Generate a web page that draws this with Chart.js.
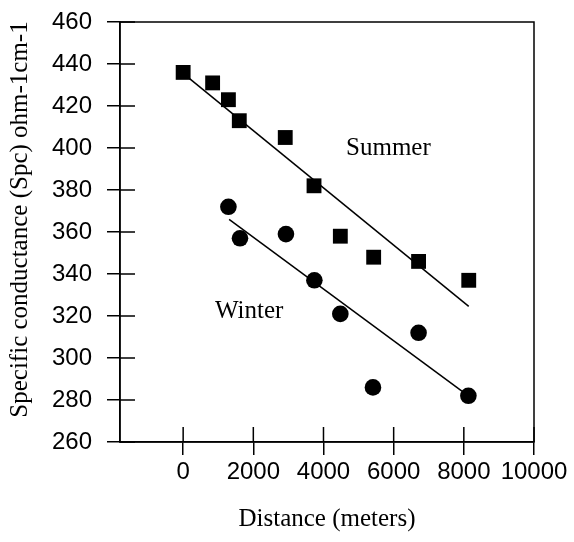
<!DOCTYPE html>
<html>
<head>
<meta charset="utf-8">
<script src="https://cdn.jsdelivr.net/npm/chart.js@4/dist/chart.umd.min.js"></script>
<style>
  body { margin: 0; background: #fff; }
  canvas { display: block; }
</style>
</head>
<body>
<canvas id="myChart" width="574" height="542"></canvas>
<script>
// data
const summerX = [0, 840, 1290, 1600, 2910, 3730, 4480, 5430, 6710, 8140];
const summerY = [436, 431, 423, 413, 405, 382, 358, 348, 346, 337];
const winterX = [1290, 1620, 2930, 3740, 4480, 5410, 6710, 8130];
const winterY = [372, 357, 359, 337, 321, 286, 312, 282];

// fitted lines (end points)
const summerFitX = [0, 8140];
const summerFitY = [435.5, 324.6];
const winterFitX = [1310, 8100];
const winterFitY = [366, 282.3];

const xTicks = [0, 2000, 4000, 6000, 8000, 10000];
const yTicks = [260, 280, 300, 320, 340, 360, 380, 400, 420, 440, 460];

const toPoints = (xs, ys) => xs.map((x, i) => ({ x: x, y: ys[i] }));

Chart.defaults.font.family = "'Liberation Sans', Arial, sans-serif";
Chart.defaults.font.size = 24;
Chart.defaults.color = '#000';

const serif = "'Liberation Serif', 'Times New Roman', serif";

// in-plot labels
const seriesNotes = [
    { text: 'Summer', x: 5850, y: 400 },
    { text: 'Winter', x: 1880, y: 322 }
];

// frame + inward ticks + notes
const framePlugin = {
    id: 'frame',
    afterDraw(chart) {
        const { ctx, chartArea: a, scales } = chart;
        ctx.save();
        ctx.strokeStyle = '#000';
        ctx.lineWidth = 1.5;
        ctx.strokeRect(a.left, a.top, a.right - a.left, a.bottom - a.top);
        ctx.beginPath();
        yTicks.forEach(v => {
            const py = scales.y.getPixelForValue(v);
            ctx.moveTo(a.left, py);
            ctx.lineTo(a.left + 15, py);
        });
        xTicks.forEach(v => {
            const px = scales.x.getPixelForValue(v);
            ctx.moveTo(px, a.bottom);
            ctx.lineTo(px, a.bottom - 15);
        });
        ctx.stroke();

        ctx.fillStyle = '#000';
        ctx.font = '25px ' + serif;
        ctx.textAlign = 'center';
        ctx.textBaseline = 'middle';
        seriesNotes.forEach(n => {
            ctx.fillText(n.text, scales.x.getPixelForValue(n.x), scales.y.getPixelForValue(n.y));
        });
        ctx.restore();
    }
};

const ctx = document.getElementById('myChart').getContext('2d');

const chart = new Chart(ctx, {
    type: 'scatter',
    data: {
        datasets: [
            {
                label: 'Summer',
                data: toPoints(summerX, summerY),
                pointStyle: 'rect',
                pointRadius: 10.5,
                backgroundColor: '#000',
                borderColor: '#000',
                borderWidth: 0
            },
            {
                label: 'Winter',
                data: toPoints(winterX, winterY),
                pointStyle: 'circle',
                pointRadius: 8.3,
                backgroundColor: '#000',
                borderColor: '#000',
                borderWidth: 0
            },
            {
                type: 'line',
                label: 'Summer fit',
                data: toPoints(summerFitX, summerFitY),
                borderColor: '#000',
                borderWidth: 1.5,
                pointRadius: 0,
                fill: false
            },
            {
                type: 'line',
                label: 'Winter fit',
                data: toPoints(winterFitX, winterFitY),
                borderColor: '#000',
                borderWidth: 1.5,
                pointRadius: 0,
                fill: false
            }
        ]
    },
    options: {
        responsive: false,
        animation: false,
        layout: { padding: { left: 0, top: 22, right: 40, bottom: 0 } },
        plugins: {
            legend: { display: false },
            tooltip: { enabled: false }
        },
        scales: {
            x: {
                type: 'linear',
                min: -1800,
                max: 10000,
                afterBuildTicks: (scale) => { scale.ticks = xTicks.map(v => ({ value: v })); },
                afterFit: (scale) => {
                    scale.height = 100;
                    scale.paddingLeft = 0;
                    scale.paddingRight = 0;
                },
                grid: {
                    drawOnChartArea: false,
                    color: '#000',
                    lineWidth: 1.5,
                    tickLength: 13
                },
                border: { color: '#000', width: 1.5 },
                ticks: { padding: 3, maxRotation: 0, autoSkip: false, callback: (v) => String(v) },
                title: {
                    display: true,
                    text: 'Distance (meters)',
                    font: { family: serif, size: 25 },
                    padding: { top: 8, bottom: 8 }
                }
            },
            y: {
                min: 260,
                max: 460,
                afterBuildTicks: (scale) => { scale.ticks = yTicks.map(v => ({ value: v })); },
                afterFit: (scale) => {
                    scale.width = 120;
                    scale.paddingTop = 0;
                    scale.paddingBottom = 0;
                },
                grid: {
                    drawOnChartArea: false,
                    color: '#000',
                    lineWidth: 1.5,
                    tickLength: 13
                },
                border: { color: '#000', width: 1.5 },
                ticks: { padding: 15, autoSkip: false, callback: (v) => String(v) },
                title: {
                    display: true,
                    // leading spaces nudge the centred title up a little, as in the original
                    text: '    Specific conductance (Spc) ohm-1cm-1',
                    font: { family: serif, size: 25 },
                    padding: { top: 5, bottom: 5 }
                }
            }
        }
    },
    plugins: [framePlugin]
});
</script>
</body>
</html>
